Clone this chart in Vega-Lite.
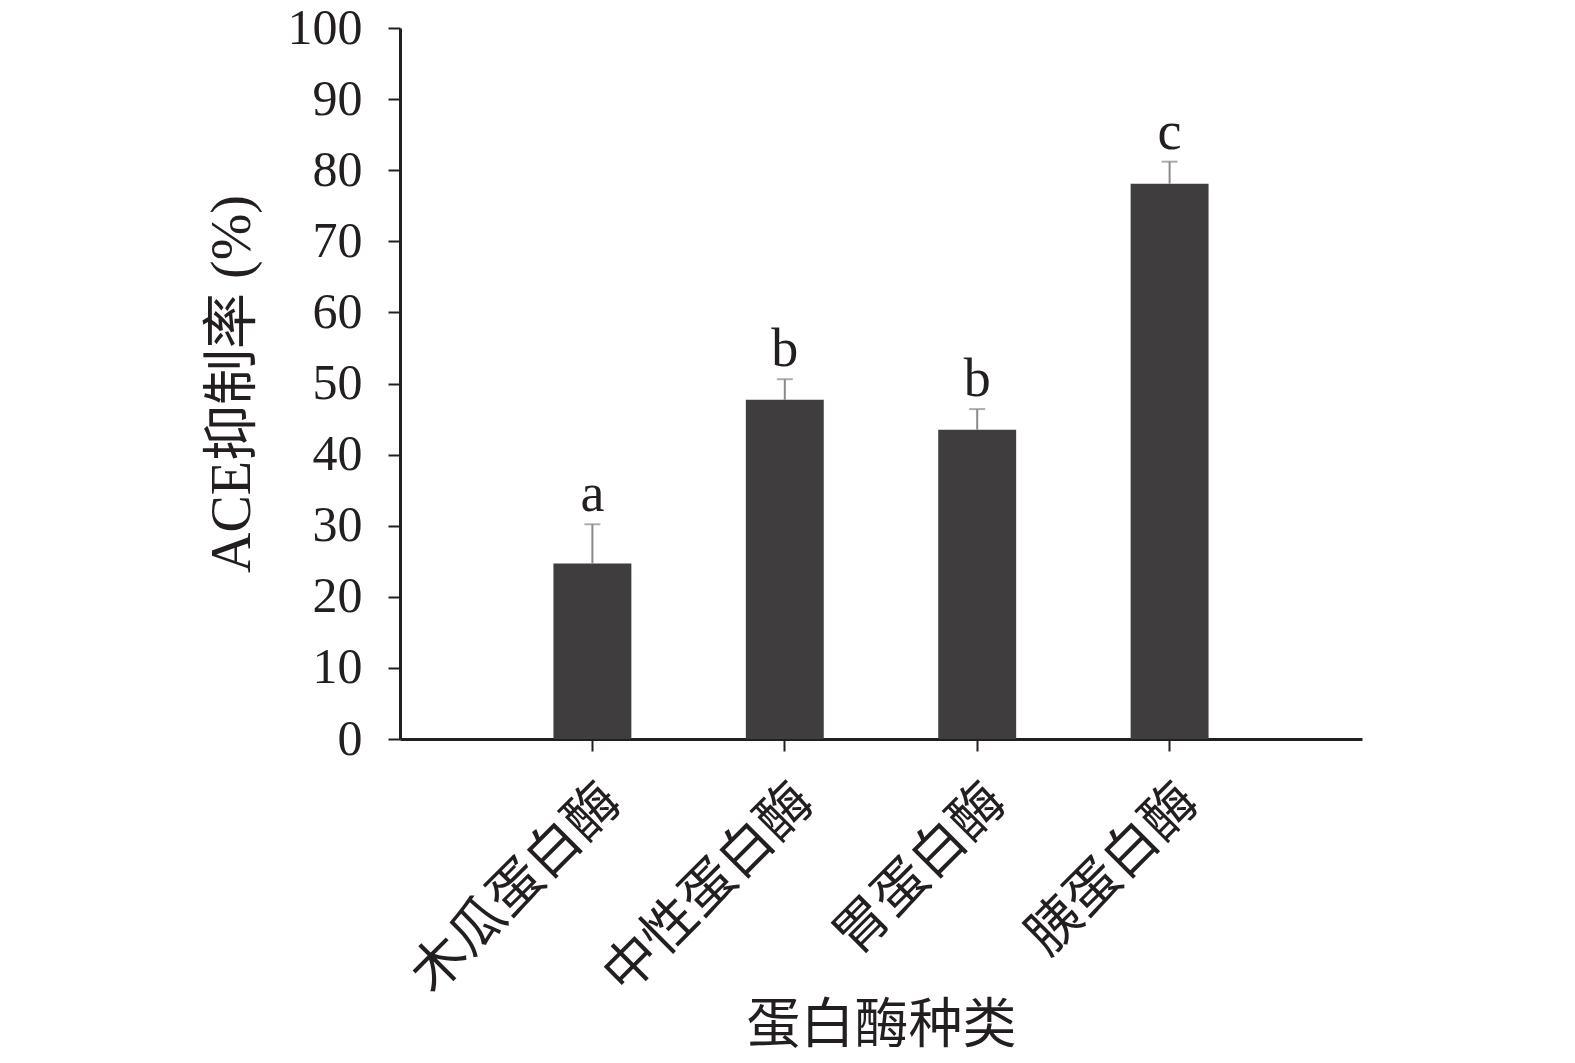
{
  "$schema": "https://vega.github.io/schema/vega-lite/v6.json",
  "width": 962,
  "height": 711,
  "autosize": {"type": "none"},
  "padding": {"left": 400, "top": 28, "right": 213, "bottom": 324},
  "background": "white",
  "config": {
    "view": {"stroke": null},
    "font": "Liberation Serif"
  },
  "data": {
    "values": [
      {"enzyme": "木瓜蛋白酶", "rate": 24.7, "upper": 30.2, "sig": "a"},
      {"enzyme": "中性蛋白酶", "rate": 47.7, "upper": 50.6, "sig": "b"},
      {"enzyme": "胃蛋白酶", "rate": 43.5, "upper": 46.4, "sig": "b"},
      {"enzyme": "胰蛋白酶", "rate": 78.1, "upper": 81.2, "sig": "c"}
    ]
  },
  "encoding": {
    "x": {
      "field": "enzyme",
      "type": "nominal",
      "sort": null,
      "scale": {"paddingInner": 0.595, "paddingOuter": 0.7975},
      "axis": {
        "title": "蛋白酶种类",
        "titleFont": "Noto Sans CJK SC",
        "titleFontSize": 54,
        "titleFontWeight": "normal",
        "titleColor": "#231f20",
        "titlePadding": 60,
        "labelFont": "Noto Sans CJK SC",
        "labelFontSize": 54,
        "labelColor": "#231f20",
        "labelAngle": -45,
        "labelAlign": "right",
        "labelBaseline": "middle",
        "labelPadding": 42,
        "labelOffset": 20,
        "labelLimit": 0,
        "domainColor": "#231f20",
        "domainWidth": 3,
        "tickColor": "#231f20",
        "tickWidth": 2,
        "tickSize": 12
      }
    }
  },
  "layer": [
    {
      "mark": {"type": "bar", "color": "#3f3d3e"},
      "encoding": {
        "y": {
          "field": "rate",
          "type": "quantitative",
          "scale": {"domain": [0, 100], "nice": false},
          "axis": {
            "title": "ACE抑制率 (%)",
            "titleFont": "Liberation Serif, Noto Sans CJK SC",
            "titleFontSize": 56,
            "titleFontWeight": "normal",
            "titleColor": "#231f20",
            "titlePadding": 26,
            "values": [0, 10, 20, 30, 40, 50, 60, 70, 80, 90, 100],
            "labelFontSize": 50,
            "labelColor": "#231f20",
            "labelPadding": 26,
            "grid": false,
            "domainColor": "#231f20",
            "domainWidth": 3,
            "tickColor": "#231f20",
            "tickWidth": 2,
            "tickSize": 12
          }
        }
      }
    },
    {
      "mark": {"type": "rule", "color": "#8a8a8a", "strokeWidth": 2},
      "encoding": {
        "y": {"field": "rate", "type": "quantitative"},
        "y2": {"field": "upper"}
      }
    },
    {
      "mark": {"type": "tick", "color": "#8a8a8a", "thickness": 2, "size": 16},
      "encoding": {
        "y": {"field": "upper", "type": "quantitative"}
      }
    },
    {
      "mark": {"type": "text", "font": "Liberation Serif", "fontSize": 54, "color": "#231f20", "baseline": "alphabetic", "dy": -13},
      "encoding": {
        "y": {"field": "upper", "type": "quantitative"},
        "text": {"field": "sig"}
      }
    }
  ]
}
